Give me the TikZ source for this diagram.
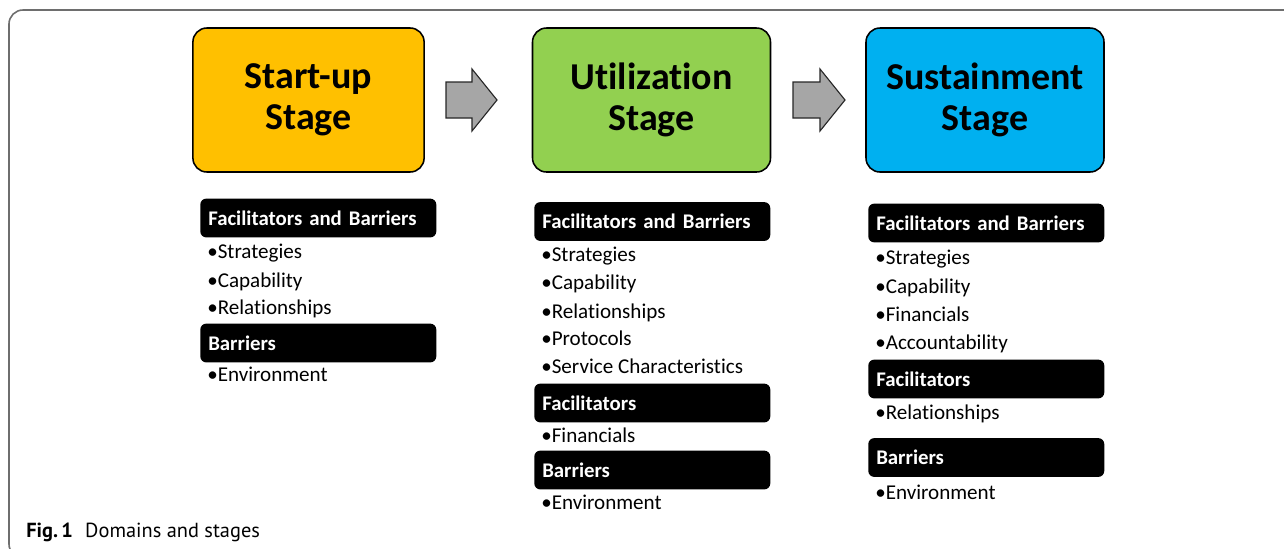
\documentclass[tikz,border=0pt]{standalone}
\usepackage{fontspec}
\setmainfont[Ligatures=NoCommon]{Carlito}
\newfontfamily\capfont{PT Sans}
\usepackage{tikz}
\usetikzlibrary{positioning}

\definecolor{startupOrange}{HTML}{FFC000}
\definecolor{utilGreen}{HTML}{92D050}
\definecolor{sustainBlue}{HTML}{00B0F0}
\definecolor{arrowGray}{HTML}{A6A6A6}
\definecolor{frameGray}{HTML}{6E6E6E}

\begin{document}
\begin{tikzpicture}[node distance=0cm,
stage/.style={rectangle, draw=black, line width=1.1pt, rounded corners=0.35cm,
minimum width=5.95cm, minimum height=3.6cm, align=center,
font=\fontsize{27}{29.5}\selectfont\bfseries},
headbox/.style={rectangle, fill=black, rounded corners=0.15cm, anchor=west,
minimum height=0.97cm, text width=5.5cm, inner xsep=0.2cm, align=left,
text=white, font=\fontsize{14.8}{17}\selectfont\bfseries},
item/.style={anchor=base west, inner sep=0pt, font=\fontsize{15}{17}\selectfont},
blockarrow/.style={fill=arrowGray, draw=black!85, line width=0.8pt, line join=miter}]
\useasboundingbox (0,0) rectangle (32.1,-13.7);

% frame round the figure
\draw[frameGray, line width=0.04cm, rounded corners=0.35cm] (32.4,-0.25) --
(0.225,-0.25) -- (0.225,-13.95) -- (2,-13.95);

% the three stages
\node (Startup) [stage, fill=startupOrange, minimum width=5.78cm, xshift=7.7125cm,
yshift=-2.5cm] {Start-up\\Stage};
\node (Utilization) [stage, fill=utilGreen, xshift=16.2875cm, yshift=-2.5cm]
{Utilization\\Stage};
\node (Sustainment) [stage, fill=sustainBlue, xshift=24.625cm, yshift=-2.5cm]
{Sustainment\\Stage};

% block arrows between the stages
\draw[blockarrow] (11.15,-2.05) -- ++(0.65,0) -- ++(0,0.325) -- ++(0.625,-0.775)
-- ++(-0.625,-0.775) -- ++(0,0.325) -- ++(-0.65,0) -- cycle;
\draw[blockarrow] (19.825,-2.05) -- ++(0.675,0) -- ++(0,0.325) -- ++(0.625,-0.775)
-- ++(-0.625,-0.775) -- ++(0,0.325) -- ++(-0.675,0) -- cycle;

% Start-up column
\node (FacBar1) [headbox, xshift=5cm, yshift=-5.45cm] {Facilitators and Barriers};
\node (Strat1) [item, xshift=5.175cm, yshift=-6.45cm] {•Strategies};
\node (Capab1) [item, xshift=5.175cm, yshift=-7.175cm] {•Capability};
\node (Relat1) [item, xshift=5.175cm, yshift=-7.85cm] {•Relationships};
\node (Bar1) [headbox, xshift=5cm, yshift=-8.575cm] {Barriers};
\node (Envir1) [item, xshift=5.175cm, yshift=-9.525cm] {•Environment};

% Utilization column
\node (FacBar2) [headbox, xshift=13.35cm, yshift=-5.5375cm] {Facilitators and Barriers};
\node (Strat2) [item, xshift=13.525cm, yshift=-6.525cm] {•Strategies};
\node (Capab2) [item, xshift=13.525cm, yshift=-7.225cm] {•Capability};
\node (Relat2) [item, xshift=13.525cm, yshift=-7.95cm] {•Relationships};
\node (Proto2) [item, xshift=13.525cm, yshift=-8.625cm] {•Protocols};
\node (Servi2) [item, xshift=13.525cm, yshift=-9.325cm] {•Service Characteristics};
\node (Fac2) [headbox, xshift=13.35cm, yshift=-10.075cm] {Facilitators};
\node (Finan2) [item, xshift=13.525cm, yshift=-11.05cm] {•Financials};
\node (Bar2) [headbox, xshift=13.35cm, yshift=-11.75cm] {Barriers};
\node (Envir2) [item, xshift=13.525cm, yshift=-12.725cm] {•Environment};

% Sustainment column
\node (FacBar3) [headbox, xshift=21.7cm, yshift=-5.575cm] {Facilitators and Barriers};
\node (Strat3) [item, xshift=21.875cm, yshift=-6.6cm] {•Strategies};
\node (Capab3) [item, xshift=21.875cm, yshift=-7.325cm] {•Capability};
\node (Finan3) [item, xshift=21.875cm, yshift=-8.025cm] {•Financials};
\node (Accou3) [item, xshift=21.875cm, yshift=-8.725cm] {•Accountability};
\node (Fac3) [headbox, xshift=21.7cm, yshift=-9.475cm] {Facilitators};
\node (Relat3) [item, xshift=21.875cm, yshift=-10.475cm] {•Relationships};
\node (Bar3) [headbox, xshift=21.7cm, yshift=-11.4375cm] {Barriers};
\node (Envir3) [item, xshift=21.875cm, yshift=-12.475cm] {•Environment};

% caption
\node (Caption) [anchor=base west, inner sep=0pt, xshift=0.65cm, yshift=-13.425cm,
font=\capfont\fontsize{14.5}{16}\selectfont] {\textbf{Fig.\,1}\hspace{0.6em}Domains and stages};

\end{tikzpicture}
\end{document}
